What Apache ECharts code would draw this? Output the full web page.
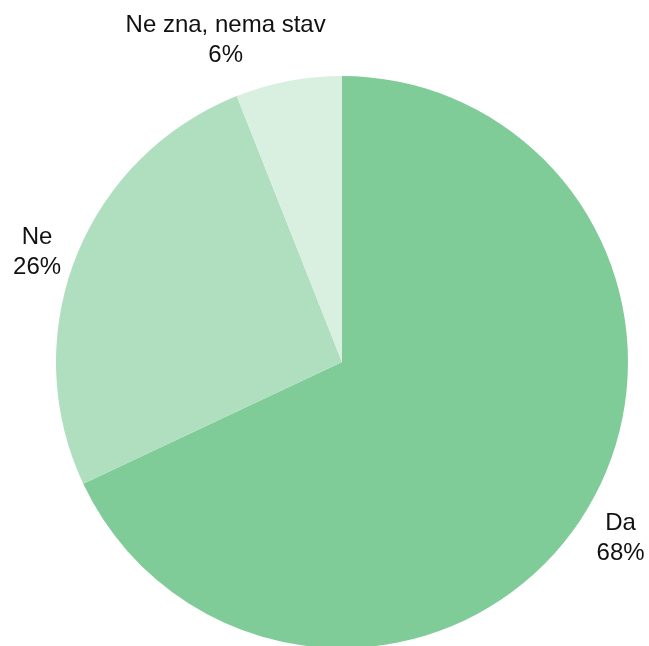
<!DOCTYPE html>
<html>
<head>
<meta charset="utf-8">
<script src="https://cdn.jsdelivr.net/npm/echarts@6/dist/echarts.min.js"></script>
<style>
  html, body { margin: 0; padding: 0; background: #fff; }
  #chart { width: 649px; height: 646px; }
</style>
</head>
<body>
<div id="chart"></div>
<script>
// Survey answers and their shares
const categories = ['Da', 'Ne', 'Ne zna, nema stav'];
const values = [68, 26, 6];
const colors = ['#80CC98', '#B0DFC0', '#D9F0E1'];

// Pie geometry
const CX = 342, CY = 362, R = 286;
// label placement: distance from the centre along the slice's mid-angle,
// plus a sideways nudge along the rim (positive = clockwise)
const labelDist = [330, 324, 338];
const labelNudge = [0, -10, -54];

const total = values.reduce((a, b) => a + b, 0);
function midAngle(i) {
  let before = 0;
  for (let k = 0; k < i; k++) before += values[k];
  // clockwise from 12 o'clock
  return ((before + values[i] / 2) / total) * Math.PI * 2;
}

const chart = echarts.init(document.getElementById('chart'), null, { renderer: 'canvas' });
chart.setOption({
  animation: false,
  series: [{
    type: 'pie',
    center: [CX, CY],
    radius: R,
    startAngle: 90,
    clockwise: true,
    percentPrecision: 0,
    avoidLabelOverlap: false,
    emphasis: { disabled: true },
    itemStyle: { borderWidth: 0 },
    label: {
      show: true,
      position: 'outside',
      formatter: '{b}\n{d}%',
      fontFamily: 'Liberation Sans, Arial, sans-serif',
      fontSize: 24,
      lineHeight: 30,
      color: '#111',
      align: 'center'
    },
    labelLine: { show: false },
    labelLayout: function (p) {
      const i = p.dataIndex;
      const a = midAngle(i);
      const d = labelDist[i];
      const n = labelNudge[i];
      return {
        x: CX + Math.sin(a) * d + Math.cos(a) * n,
        y: CY - Math.cos(a) * d + Math.sin(a) * n,
        align: 'center',
        verticalAlign: 'middle'
      };
    },
    data: categories.map((name, i) => ({
      name: name,
      value: values[i],
      itemStyle: { color: colors[i] }
    }))
  }]
});
</script>
</body>
</html>
